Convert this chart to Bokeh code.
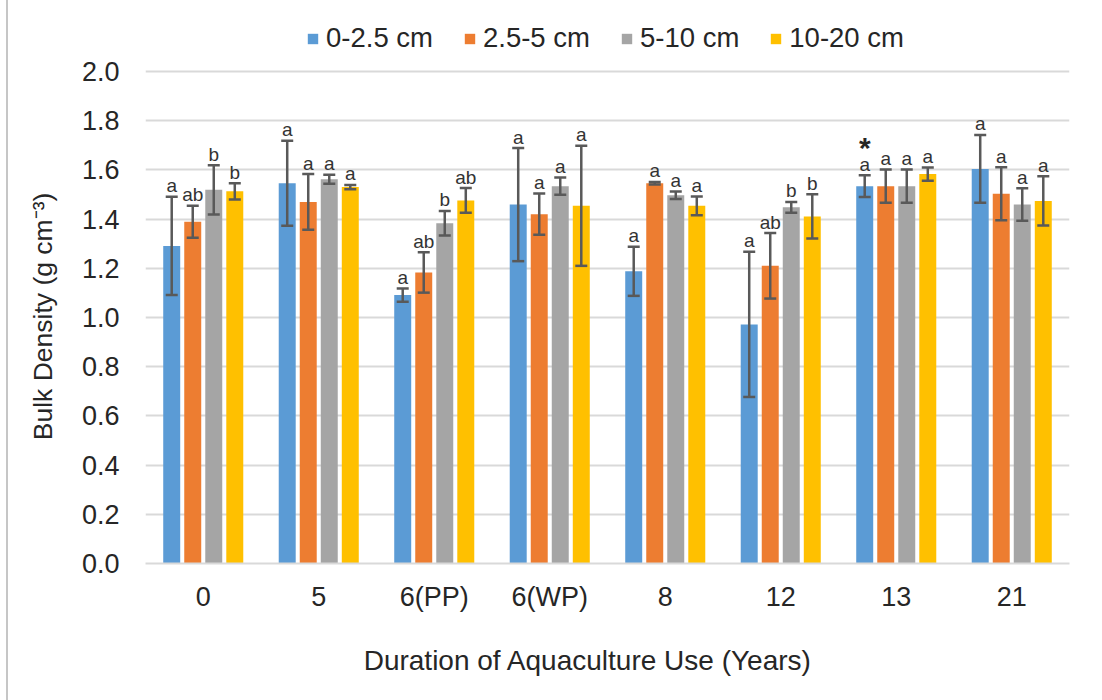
from bokeh.plotting import figure
from bokeh.models import (ColumnDataSource, FactorRange, Legend, LegendItem,
                          FixedTicker, NumeralTickFormatter)
from bokeh.transform import dodge
from bokeh.core.properties import value
from bokeh.embed import file_html
from bokeh.resources import INLINE

# Duration of aquaculture use (years)
years = ["0", "5", "6(PP)", "6(WP)", "8", "12", "13", "21"]

# Bulk density means and standard errors for each soil depth
bd_0_25 = [1.291, 1.546, 1.091, 1.459, 1.188, 0.972, 1.534, 1.604]
se_0_25 = [0.200, 0.173, 0.027, 0.230, 0.100, 0.295, 0.044, 0.138]
bd_25_5 = [1.389, 1.470, 1.183, 1.420, 1.546, 1.210, 1.534, 1.503]
se_25_5 = [0.065, 0.113, 0.082, 0.084, 0.005, 0.133, 0.068, 0.108]
bd_5_10 = [1.519, 1.562, 1.383, 1.534, 1.497, 1.448, 1.534, 1.459]
se_5_10 = [0.100, 0.018, 0.050, 0.035, 0.015, 0.022, 0.068, 0.066]
bd_10_20 = [1.513, 1.530, 1.476, 1.454, 1.454, 1.411, 1.583, 1.474]
se_10_20 = [0.033, 0.009, 0.050, 0.244, 0.038, 0.090, 0.027, 0.100]

# Significance letters per depth
let_0_25 = ["a", "a", "a", "a", "a", "a", "a", "a"]
let_25_5 = ["ab", "a", "ab", "a", "a", "ab", "a", "a"]
let_5_10 = ["b", "a", "b", "a", "a", "b", "a", "a"]
let_10_20 = ["b", "a", "ab", "a", "a", "b", "a", "a"]

# Marker for the surface layer
star_0_25 = ["", "", "", "", "", "", "*", ""]

depth_names = ["0-2.5 cm", "2.5-5 cm", "5-10 cm", "10-20 cm"]
y_ticks = [0.0, 0.2, 0.4, 0.6, 0.8, 1.0, 1.2, 1.4, 1.6, 1.8, 2.0]

colors = ["#5B9BD5", "#ED7D31", "#A5A5A5", "#FFC000"]
offsets = [-0.273, -0.091, 0.091, 0.273]
BAR_W = 0.147
CAP = 0.052          # half width of error-bar caps, in category units
ERR_COLOR = "#595959"
TEXT_COLOR = "#262626"
FONT = "Liberation Sans"
PX_PER_UNIT = 246.0  # screen pixels per unit of bulk density
PX = 1.0 / PX_PER_UNIT
NBSP = "\u00a0"

TOP_BORDER = 10
BOTTOM_BORDER = 137
HEIGHT = 700
y_end = (HEIGHT - TOP_BORDER - BOTTOM_BORDER) / PX_PER_UNIT

p = figure(x_range=FactorRange(factors=years, range_padding=0),
           y_range=(0, y_end),
           width=1102, height=HEIGHT,
           output_backend="svg", toolbar_location=None,
           min_border_left=145, min_border_right=33,
           min_border_top=TOP_BORDER, min_border_bottom=BOTTOM_BORDER)

p.background_fill_color = "white"
p.border_fill_color = None
p.outline_line_color = None
p.styles = {"background": "linear-gradient(to right, white 0px, white 6px, "
                          "#c6c6c6 6px, #c6c6c6 8px, white 8px, white 100%)"}

series = [
    (bd_0_25, se_0_25, let_0_25),
    (bd_25_5, se_25_5, let_25_5),
    (bd_5_10, se_5_10, let_5_10),
    (bd_10_20, se_10_20, let_10_20),
]

items = []
for i, (vals, errs, letters) in enumerate(series):
    hi = [v + e for v, e in zip(vals, errs)]
    lo = [v - e for v, e in zip(vals, errs)]
    data = dict(x=years, top=vals, hi=hi, lo=lo, lab=letters,
                ly=[h + 11 * PX for h in hi])
    if i == 0:
        data["star"] = star_0_25
        data["sy"] = [h + 28 * PX for h in hi]
    src = ColumnDataSource(data)
    xs = dodge("x", offsets[i], range=p.x_range)
    xl = dodge("x", offsets[i] - CAP, range=p.x_range)
    xr = dodge("x", offsets[i] + CAP, range=p.x_range)

    r = p.vbar(x=xs, top="top", width=BAR_W, source=src,
               fill_color=colors[i], line_color=None)
    items.append(LegendItem(label=depth_names[i], renderers=[r]))

    # error bars: stem plus upper and lower caps
    p.segment(x0=xs, y0="lo", x1=xs, y1="hi", source=src,
              line_color=ERR_COLOR, line_width=2.5)
    p.segment(x0=xl, y0="hi", x1=xr, y1="hi", source=src,
              line_color=ERR_COLOR, line_width=2.5)
    p.segment(x0=xl, y0="lo", x1=xr, y1="lo", source=src,
              line_color=ERR_COLOR, line_width=2.5)

    p.text(x=xs, y="ly", text="lab", source=src,
           text_font=value(FONT), text_font_size="19px",
           text_align="center", text_baseline="alphabetic",
           text_color="#333333")
    if i == 0:
        p.text(x=xs, y="sy", text="star", source=src,
               text_font=value(FONT), text_font_size="30px",
               text_font_style="bold",
               text_align="center", text_baseline="alphabetic",
               text_color="#262626")

# legend sits in the headroom above 2.0, placed from the frame's bottom-left
legend = Legend(items=items, orientation="horizontal", location=(161, 509),
                glyph_width=13, glyph_height=13, label_standoff=7,
                spacing=30, padding=0, margin=0,
                border_line_color=None, background_fill_alpha=0,
                label_text_font=FONT, label_text_font_size="27.5px",
                label_text_color=TEXT_COLOR)
p.add_layout(legend, "center")

# y axis
p.yaxis.ticker = FixedTicker(ticks=y_ticks)
p.yaxis.formatter = NumeralTickFormatter(format="0.0")
p.yaxis.axis_line_color = None
p.yaxis.major_tick_line_color = None
p.yaxis.minor_tick_line_color = None
p.yaxis.major_tick_in = 0
p.yaxis.major_tick_out = 0
p.yaxis.major_label_standoff = 26
# trailing no-break spaces keep the title centred on the 0-2.0 span
p.yaxis.axis_label = "Bulk Density (g cm\u207b\u00b3)" + NBSP * 8
p.yaxis.axis_label_standoff = 21

# x axis
p.xaxis.axis_line_color = "#d9d9d9"
p.xaxis.axis_line_width = 2
p.xaxis.major_tick_line_color = None
p.xaxis.minor_tick_line_color = None
p.xaxis.major_tick_in = 0
p.xaxis.major_tick_out = 0
p.xaxis.major_label_standoff = 18
p.xaxis.axis_label = "Duration of Aquaculture Use (Years)" + NBSP * 5
p.xaxis.axis_label_standoff = 30

for ax in (p.xaxis, p.yaxis):
    ax.major_label_text_font = FONT
    ax.major_label_text_font_size = "27px"
    ax.major_label_text_color = TEXT_COLOR
    ax.axis_label_text_font = FONT
    ax.axis_label_text_font_style = "normal"
    ax.axis_label_text_color = TEXT_COLOR
p.xaxis.axis_label_text_font_size = "28px"
p.yaxis.axis_label_text_font_size = "26.5px"

p.xgrid.grid_line_color = None
p.ygrid.grid_line_color = "#d9d9d9"
p.ygrid.grid_line_width = 2

open("out.html", "w").write(file_html(p, INLINE))
